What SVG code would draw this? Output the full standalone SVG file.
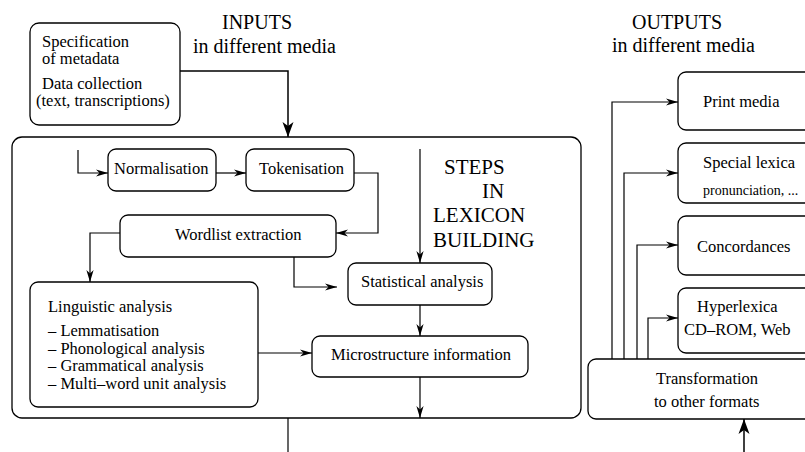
<svg xmlns="http://www.w3.org/2000/svg" width="805" height="452" viewBox="0 0 805 452">
  <style>
    .box { fill: #fff; stroke: #000; stroke-width: 1.3; }
    .ln { fill: none; stroke: #000; stroke-width: 1.2; }
    .lnb { fill: none; stroke: #000; stroke-width: 1.5; }
    .t { font-family: "Liberation Serif", serif; font-size: 16.5px; fill: #000; }
    .s { font-family: "Liberation Serif", serif; font-size: 14px; fill: #000; }
    .h { font-family: "Liberation Serif", serif; font-size: 20px; fill: #000; }
    .hh { font-family: "Liberation Serif", serif; font-size: 21px; fill: #000; }
  </style>
  <defs>
    <marker id="arr" markerUnits="userSpaceOnUse" markerWidth="16" markerHeight="10" viewBox="-13 -5 14 10" refX="0" refY="0" orient="auto">
      <path d="M0,0 L-12,-3.6 L-8.5,0 L-12,3.6 Z" fill="#000"/>
    </marker>
    <marker id="big" markerUnits="userSpaceOnUse" markerWidth="18" markerHeight="14" viewBox="-16 -7 17 14" refX="0" refY="0" orient="auto">
      <path d="M0,0 L-15,-5.5 L-11,0 L-15,5.5 Z" fill="#000"/>
    </marker>
  </defs>

  <rect width="805" height="452" fill="#fff"/>

  <!-- headings -->
  <g id="inputs-label">
    <text class="h" x="222" y="29">INPUTS</text>
    <text class="h" x="193" y="53">in different media</text>
  </g>
  <g id="outputs-label">
    <text class="h" x="632" y="29">OUTPUTS</text>
    <text class="h" x="612" y="52">in different media</text>
  </g>

  <!-- source material -->
  <g id="sources">
    <rect class="box" x="30" y="23" width="150" height="102" rx="9"/>
    <text class="t" x="42" y="47">Specification</text>
    <text class="t" x="42" y="64">of metadata</text>
    <text class="t" x="42" y="89">Data collection</text>
    <text class="t" x="36" y="106">(text, transcriptions)</text>
  </g>

  <!-- lexicon building frame -->
  <g id="steps">
    <rect class="box" x="12" y="137" width="569" height="281" rx="10"/>
    <text class="hh" x="444" y="174">STEPS</text>
    <text class="hh" x="482" y="198">IN</text>
    <text class="hh" x="433" y="222">LEXICON</text>
    <text class="hh" x="433" y="247">BUILDING</text>
  </g>

  <g id="normalisation">
    <rect class="box" x="108" y="149" width="108" height="42" rx="8"/>
    <text class="t" x="114" y="174">Normalisation</text>
  </g>
  <g id="tokenisation">
    <rect class="box" x="246" y="149" width="108" height="42" rx="8"/>
    <text class="t" x="259" y="174">Tokenisation</text>
  </g>
  <g id="wordlist">
    <rect class="box" x="120" y="215" width="216" height="42" rx="8"/>
    <text class="t" x="175" y="240">Wordlist extraction</text>
  </g>
  <g id="statistical">
    <rect class="box" x="348" y="263" width="144" height="42" rx="8"/>
    <text class="t" x="361" y="287">Statistical analysis</text>
  </g>
  <g id="linguistic">
    <rect class="box" x="30" y="282" width="228" height="125" rx="8"/>
    <text class="t" x="48" y="312">Linguistic analysis</text>
    <text class="t" x="48" y="336">– Lemmatisation</text>
    <text class="t" x="48" y="354">– Phonological analysis</text>
    <text class="t" x="48" y="371">– Grammatical analysis</text>
    <text class="t" x="48" y="389">– Multi–word unit analysis</text>
  </g>
  <g id="microstructure">
    <rect class="box" x="312" y="336" width="216" height="41" rx="8"/>
    <text class="t" x="331" y="360">Microstructure information</text>
  </g>

  <!-- output media -->
  <g id="print">
    <rect class="box" x="678" y="72" width="140" height="58" rx="8"/>
    <text class="t" x="703" y="107">Print media</text>
  </g>
  <g id="special">
    <rect class="box" x="678" y="143" width="140" height="60" rx="8"/>
    <text class="t" x="703" y="168">Special lexica</text>
    <text class="s" x="703" y="195">pronunciation, ...</text>
  </g>
  <g id="concordances">
    <rect class="box" x="678" y="216" width="140" height="59" rx="8"/>
    <text class="t" x="697" y="252">Concordances</text>
  </g>
  <g id="hyperlexica">
    <rect class="box" x="678" y="288" width="140" height="65" rx="8"/>
    <text class="t" x="697" y="312">Hyperlexica</text>
    <text class="t" x="684" y="335">CD–ROM, Web</text>
  </g>
  <g id="transformation">
    <rect class="box" x="588" y="359" width="230" height="60" rx="8"/>
    <text class="t" x="656" y="384">Transformation</text>
    <text class="t" x="654" y="407">to other formats</text>
  </g>

  <!-- connectors -->
  <g id="connectors">
    <polyline class="lnb" points="180,71 288,71 288,137" marker-end="url(#big)"/>
    <polyline class="ln" points="78,150 78,173 108,173" marker-end="url(#arr)"/>
    <line class="ln" x1="216" y1="173" x2="246" y2="173" marker-end="url(#arr)"/>
    <polyline class="ln" points="354,173 378,173 378,233 336,233" marker-end="url(#arr)"/>
    <polyline class="ln" points="120,233 90,233 90,282" marker-end="url(#arr)"/>
    <polyline class="ln" points="294,257 294,287 337,287" marker-end="url(#arr)"/>
    <line class="ln" x1="420" y1="149" x2="420" y2="263" marker-end="url(#arr)"/>
    <line class="ln" x1="420" y1="305" x2="420" y2="336" marker-end="url(#arr)"/>
    <line class="ln" x1="258" y1="353" x2="312" y2="353" marker-end="url(#arr)"/>
    <line class="ln" x1="420" y1="377" x2="420" y2="418" marker-end="url(#arr)"/>
    <line class="ln" x1="288" y1="418" x2="288" y2="452"/>
    <line class="lnb" x1="744" y1="452" x2="744" y2="419" marker-end="url(#big)"/>
    <polyline class="ln" points="612,359 612,102 678,102" marker-end="url(#arr)"/>
    <polyline class="ln" points="624,359 624,173 678,173" marker-end="url(#arr)"/>
    <polyline class="ln" points="637,359 637,245 678,245" marker-end="url(#arr)"/>
    <polyline class="ln" points="648,359 648,318 678,318" marker-end="url(#arr)"/>
  </g>
</svg>
